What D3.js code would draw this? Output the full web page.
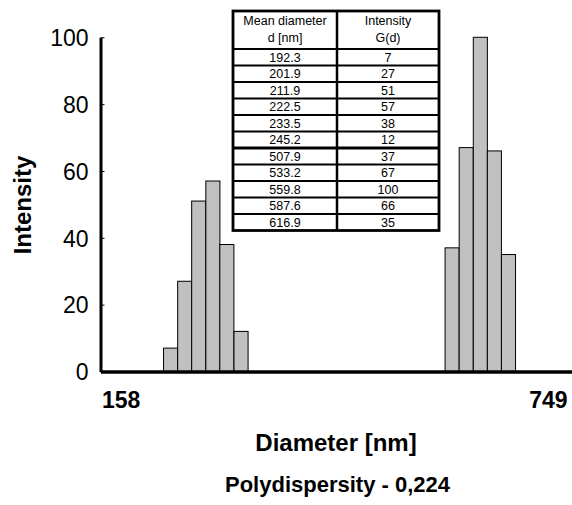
<!DOCTYPE html>
<html><head><meta charset="utf-8">
<script src="https://cdn.jsdelivr.net/npm/d3@7"></script>
<style>
body{margin:0;background:#fff}
svg{display:block}
text{font-family:"Liberation Sans",Arial,Helvetica,sans-serif;fill:#000}
</style>
</head><body><svg id="c" width="572" height="505"></svg>
<script>
// ---- data ----
const diameters = [192.3, 201.9, 211.9, 222.5, 233.5, 245.2, 507.9, 533.2, 559.8, 587.6, 616.9];
const intensities = [7, 27, 51, 57, 38, 12, 37, 67, 100, 66, 35];
const xTickLabels = ["158", "749"];
const yTicks = [0, 20, 40, 60, 80, 100];
const xDomain = [151, 768];
const yDomain = [0, 100];
const tableHeader1 = ["Mean diameter", "d [nm]"];
const tableHeader2 = ["Intensity", "G(d)"];
const xTitle = "Diameter [nm]";
const yTitle = "Intensity";
const noteText = "Polydispersity - 0,224";

// ---- layout ----
const svg = d3.select("#c");
const plotL = 100.5, plotR = 572, plotT = 37.3, plotB = 371.5;

const x = d3.scaleLog().domain(xDomain).range([plotL, plotR]);
const y = d3.scaleLinear().domain(yDomain).range([plotB, plotT]);

const binRatio = Math.pow(diameters[5] / diameters[0], 1 / 5);
const half = Math.sqrt(binRatio);

const bars = diameters.map((d, i) => ({d, v: intensities[i]}));

// bars
svg.append("g").selectAll("rect").data(bars).join("rect")
  .attr("x", b => x(b.d / half))
  .attr("width", b => x(b.d * half) - x(b.d / half))
  .attr("y", b => y(b.v))
  .attr("height", b => y(0) - y(b.v))
  .attr("fill", "#c0c0c0")
  .attr("stroke", "#000")
  .attr("stroke-width", 1);

// y axis
const yAxis = d3.axisLeft(y).tickValues(yTicks).tickSizeInner(-4).tickSizeOuter(0).tickPadding(12);
const gy = svg.append("g").attr("transform", `translate(${plotL},0)`).call(yAxis);
gy.attr("font-family", null).attr("font-size", null);
gy.select(".domain").attr("stroke", "#000").attr("stroke-width", 3);
gy.selectAll(".tick line").attr("stroke", "#000").attr("stroke-width", 1);
gy.selectAll(".tick text").attr("font-size", 23).attr("dy", null)
  .attr("y", 8.3);

// x axis line (no ticks)
const xAxis = d3.axisBottom(x).tickValues([]).tickSizeOuter(0);
const gx = svg.append("g").attr("transform", `translate(0,${plotB})`).call(xAxis);
gx.select(".domain").attr("stroke", "#000").attr("stroke-width", 3.5);

// x end labels
const [r0, r1] = x.range();
svg.append("g").selectAll("text").data(xTickLabels).join("text")
  .attr("x", (d, i) => i === 0 ? r0 + 1.5 : r1 - 4.5)
  .attr("y", 407.5)
  .attr("text-anchor", (d, i) => i === 0 ? "start" : "end")
  .attr("font-size", 23).attr("font-weight", "bold")
  .text(d => d);

// titles
svg.append("text").attr("transform", "translate(30.5,205) rotate(-90)")
  .attr("text-anchor", "middle").attr("font-size", 24).attr("font-weight", "bold").text(yTitle);
svg.append("text").attr("x", 336).attr("y", 451).attr("text-anchor", "middle")
  .attr("font-size", 24).attr("font-weight", "bold").text(xTitle);
svg.append("text").attr("x", 337.5).attr("y", 492).attr("text-anchor", "middle")
  .attr("font-size", 22).attr("font-weight", "bold").text(noteText);

// ---- table ----
const tL = 233, tR = 439, tM = 337, tT = 11, tH = 49, tB = 230.5;
const rowH = (tB - tH) / diameters.length;
const tg = svg.append("g");
tg.append("rect").attr("x", tL).attr("y", tT).attr("width", tR - tL).attr("height", tB - tT)
  .attr("fill", "#fff").attr("stroke", "none");

const c1 = (tL + tM) / 2, c2 = (tM + tR) / 2;
const hdr = tg.append("g");
[tableHeader1, tableHeader2].forEach((h, j) => {
  hdr.append("g").selectAll("text").data(h).join("text")
    .attr("x", j === 0 ? c1 : c2)
    .attr("y", (d, i) => i === 0 ? 24.5 : 41.5)
    .attr("text-anchor", "middle").attr("font-size", 12.5).text(d => d);
});

const rows = tg.append("g").selectAll("g").data(bars).join("g")
  .attr("transform", (b, i) => `translate(0,${tH + rowH * i + rowH / 2})`);
rows.append("text").attr("x", c1).attr("y", 4.5).attr("text-anchor", "middle")
  .attr("font-size", 12.5).text(b => b.d.toFixed(1));
rows.append("text").attr("x", c2).attr("y", 4.5).attr("text-anchor", "middle")
  .attr("font-size", 12.5).text(b => b.v);

// horizontal lines
const hLines = d3.range(0, diameters.length).map(i => tH + rowH * i);
tg.selectAll("line.h").data(hLines).join("line").attr("class", "h")
  .attr("x1", tL).attr("x2", tR).attr("y1", d => d).attr("y2", d => d)
  .attr("stroke", "#000").attr("stroke-width", (d, i) => i === 6 ? 3 : 2.2);
tg.append("line").attr("x1", tM).attr("x2", tM).attr("y1", tT).attr("y2", tB)
  .attr("stroke", "#000").attr("stroke-width", 2.5);
tg.append("rect").attr("x", tL).attr("y", tT).attr("width", tR - tL).attr("height", tB - tT)
  .attr("fill", "none").attr("stroke", "#000").attr("stroke-width", 2.8);
</script>
</body></html>
